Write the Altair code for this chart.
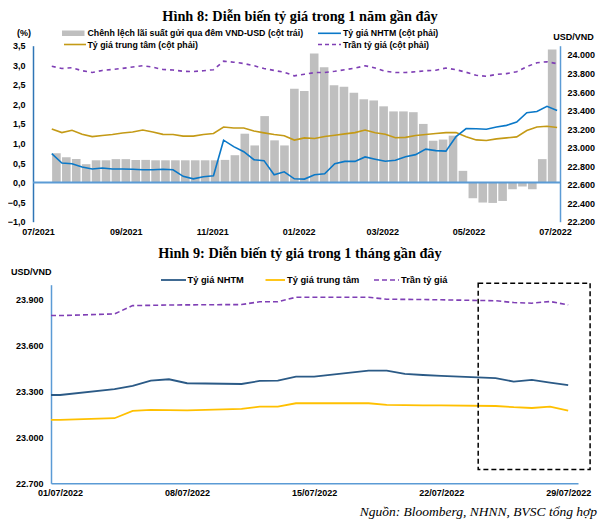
import altair as alt
import pandas as pd

# ---------------- Hình 8: weekly data, 1 year ----------------
week_dates = pd.date_range("2021-07-14", periods=51, freq="7D").strftime("%Y-%m-%d").tolist()

spread = [0.75, 0.65, 0.6, 0.47, 0.57, 0.57, 0.6, 0.6, 0.58, 0.58,
          0.57, 0.57, 0.57, 0.57, 0.57, 0.57, 0.57, 0.58, 0.7, 1.25,
          0.95, 1.7, 1.08, 0.95, 2.4, 2.34, 3.3, 2.95, 2.49, 2.45,
          2.3, 2.13, 2.1, 1.95, 1.82, 1.82, 1.8, 1.5, 1.07, 1.1,
          1.2, 0.3, -0.4, -0.51, -0.52, -0.47, -0.17, -0.1, -0.17, 0.6, 3.4]

nhtm_year = [22935, 22834, 22826, 22790, 22769, 22779, 22769, 22769, 22766, 22761,
             22761, 22766, 22761, 22690, 22663, 22685, 22696, 23080, 23010, 22956,
             22869, 22859, 22707, 22739, 22663, 22660, 22707, 22718, 22826, 22851,
             22851, 22899, 22875, 22853, 22864, 22902, 22924, 22983, 22967, 22962,
             23119, 23206, 23204, 23198, 23222, 23240, 23276, 23376, 23390, 23445, 23401]

central_year = [23200, 23162, 23187, 23143, 23119, 23130, 23141, 23157, 23168, 23190,
                23168, 23143, 23141, 23124, 23124, 23141, 23152, 23222, 23211, 23211,
                23179, 23159, 23141, 23127, 23081, 23105, 23099, 23119, 23133, 23148,
                23162, 23190, 23160, 23144, 23106, 23110, 23130, 23141, 23152, 23162,
                23162, 23117, 23083, 23076, 23094, 23105, 23116, 23184, 23222, 23230, 23217]

ceiling_year = [23878, 23854, 23862, 23830, 23811, 23833, 23843, 23855, 23870, 23884,
                23868, 23843, 23838, 23824, 23821, 23830, 23841, 23933, 23922, 23908,
                23884, 23854, 23833, 23813, 23775, 23792, 23810, 23810, 23824, 23841,
                23857, 23884, 23860, 23824, 23810, 23810, 23819, 23830, 23835, 23859,
                23841, 23813, 23781, 23770, 23790, 23799, 23819, 23873, 23916, 23927, 23906]

year_ticks = [(2021, 7), (2021, 9), (2021, 11), (2022, 1), (2022, 3), (2022, 5), (2022, 7)]
left_ticks = [-1.0, -0.5, 0.0, 0.5, 1.0, 1.5, 2.0, 2.5, 3.0, 3.5]
right_ticks = [22200, 22400, 22600, 22800, 23000, 23200, 23400, 23600, 23800, 24000]

# ---------------- Hình 9: daily data, 1 month ----------------
month_dates = ["2022-06-30", "2022-07-01", "2022-07-04", "2022-07-05", "2022-07-06",
               "2022-07-07", "2022-07-08", "2022-07-11", "2022-07-12", "2022-07-13",
               "2022-07-14", "2022-07-15", "2022-07-18", "2022-07-19", "2022-07-20",
               "2022-07-21", "2022-07-22", "2022-07-25", "2022-07-26", "2022-07-27",
               "2022-07-28", "2022-07-29"]
nhtm_month = [23278, 23278, 23316, 23337, 23372, 23381, 23355, 23350, 23370, 23372,
              23398, 23398, 23438, 23438, 23416, 23409, 23403, 23388, 23366, 23377,
              23359, 23342]
central_month = [23115, 23115, 23126, 23174, 23180, 23179, 23178, 23187, 23202, 23202,
                 23224, 23224, 23224, 23213, 23212, 23210, 23210, 23206, 23198, 23193,
                 23202, 23176]
ceiling_month = [23798, 23798, 23809, 23863, 23865, 23867, 23868, 23870, 23888, 23888,
                 23918, 23918, 23918, 23905, 23904, 23903, 23901, 23895, 23883, 23879,
                 23890, 23868]
month_ticks = [1, 8, 15, 22, 29]
month_y_ticks = [22700, 23000, 23300, 23600, 23900]

# highlighted window (dashed box) in data terms
box_x = ["2022-07-24T01:00:00Z", "2022-07-30T05:00:00Z"]
box_y = [22790, 24010]

df_year = pd.DataFrame({"date": week_dates, "spread": spread, "nhtm": nhtm_year,
                        "central": central_year, "ceiling": ceiling_year})
df_month = pd.DataFrame({"date": month_dates, "nhtm": nhtm_month,
                         "central": central_month, "ceiling": ceiling_month})
df_box = pd.DataFrame({"x0": [box_x[0]], "x1": [box_x[1]], "y0": [box_y[0]], "y1": [box_y[1]]})
one = pd.DataFrame({"k": [0]})

# ---------------- layout / style ----------------
W, H = 592, 512
SANS = "Liberation Sans"
SERIF = "Liberation Serif"


def dt(y, m, d, h=0):
    return alt.DateTime(year=y, month=m, date=d, hours=h, utc=True)


x_year = alt.Scale(type="utc", domain=[dt(2021, 7, 1), dt(2022, 7, 1)], range=[25, 552])
y_left = alt.Scale(domain=[-1, 3.5], range=[213.7, 37.7], nice=False, zero=False)
y_right = alt.Scale(domain=[22200, 24100], range=[213.7, 37.7], nice=False, zero=False)
x_month = alt.Scale(type="utc", domain=[dt(2022, 6, 30, 12), dt(2022, 7, 29, 13)],
                    range=[43, 570], clamp=True)
x_month_free = alt.Scale(type="utc", domain=[dt(2022, 6, 30, 12), dt(2022, 7, 29, 13)],
                         range=[43, 570])
y_month = alt.Scale(domain=[22700, 24000], range=[475.3, 276.7], nice=False, zero=False)

lab = dict(labelFont=SANS, labelFontWeight="bold", labelFontSize=9, labelColor="black",
           grid=False, ticks=False, title=None, labelFlush=False, labelOverlap=False)

ax_year_x = alt.Axis(orient="bottom", offset=213.7 - H, domain=False, labelPadding=5.5,
                     values=[dt(y, m, 1) for y, m in year_ticks], format="%m/%Y", **lab)
ax_left = alt.Axis(orient="left", offset=-25, values=left_ticks, labelPadding=8,
                   labelExpr="replace(format(datum.value, '.1f'), '.', ',')",
                   domainColor="#2E75B6", domainWidth=1.5, **lab)
ax_right = alt.Axis(orient="right", offset=552 - W, values=right_ticks, labelPadding=7,
                    labelExpr="replace(format(datum.value, ','), ',', '.')",
                    domainColor="#5B9BD5", domainWidth=1.5, **lab)
ax_month_x = alt.Axis(orient="bottom", offset=475.3 - H, labelPadding=5.5,
                      values=[dt(2022, 7, d) for d in month_ticks], format="%d/%m/%Y",
                      domainColor="#5B9BD5", domainWidth=1.5, **lab)
ax_month_y = alt.Axis(orient="left", offset=-43, values=month_y_ticks, labelPadding=8,
                      labelExpr="replace(format(datum.value, ','), ',', '.')",
                      domainColor="#5B9BD5", domainWidth=1.5, **lab)

# ---------------- Hình 8 layers ----------------
bars = alt.Chart(df_year).mark_bar(color="#BFBFBF", size=8.6).encode(
    x=alt.X("date:T", scale=x_year, axis=ax_year_x),
    y=alt.Y("spread:Q", scale=y_left, axis=ax_left),
    y2=alt.datum(0),
)
zero_rule = alt.Chart(one).mark_rule(color="#5B9BD5", strokeWidth=2).encode(
    x=alt.X(datum=dt(2021, 7, 1), type="temporal", scale=x_year, axis=None),
    x2=alt.datum(dt(2022, 7, 1)),
    y=alt.Y(datum=0, type="quantitative", scale=y_left, axis=None),
)
line_nhtm = alt.Chart(df_year).mark_line(color="#0A78C8", strokeWidth=1.6).encode(
    x=alt.X("date:T", scale=x_year, axis=None),
    y=alt.Y("nhtm:Q", scale=y_right, axis=ax_right),
)
line_central = alt.Chart(df_year).mark_line(color="#C49A16", strokeWidth=1.6).encode(
    x=alt.X("date:T", scale=x_year, axis=None),
    y=alt.Y("central:Q", scale=y_right, axis=None),
)
line_ceiling = alt.Chart(df_year).mark_line(color="#7F3FB5", strokeWidth=1.6,
                                            strokeDash=[4, 4]).encode(
    x=alt.X("date:T", scale=x_year, axis=None),
    y=alt.Y("ceiling:Q", scale=y_right, axis=None),
)

# ---------------- Hình 9 layers ----------------
m_nhtm = alt.Chart(df_month).mark_line(color="#2B5A86", strokeWidth=1.8).encode(
    x=alt.X("date:T", scale=x_month, axis=ax_month_x),
    y=alt.Y("nhtm:Q", scale=y_month, axis=ax_month_y),
)
m_central = alt.Chart(df_month).mark_line(color="#FFC000", strokeWidth=1.8).encode(
    x=alt.X("date:T", scale=x_month, axis=None),
    y=alt.Y("central:Q", scale=y_month, axis=None),
)
m_ceiling = alt.Chart(df_month).mark_line(color="#7F3FB5", strokeWidth=1.6,
                                          strokeDash=[5, 3]).encode(
    x=alt.X("date:T", scale=x_month, axis=None),
    y=alt.Y("ceiling:Q", scale=y_month, axis=None),
)
box = alt.Chart(df_box).mark_rect(fillOpacity=0, stroke="black", strokeWidth=1.5,
                                  strokeDash=[5, 3]).encode(
    x=alt.X("x0:T", scale=x_month_free, axis=None),
    x2="x1:T",
    y=alt.Y("y0:Q", scale=y_month, axis=None),
    y2="y1:Q",
)


# ---------------- texts & legends ----------------
def text(s, x, y, size=8.8, align="left", font=SANS, weight="bold", style="normal"):
    return alt.Chart(one).mark_text(align=align, baseline="middle", font=font,
                                    fontSize=size, fontWeight=weight, fontStyle=style,
                                    color="black").encode(
        x=alt.value(x), y=alt.value(y), text=alt.value(s))


def sym_line(x0, x1, y, color, dash=None, width=1.6):
    kw = dict(color=color, strokeWidth=width)
    if dash:
        kw["strokeDash"] = dash
    return alt.Chart(one).mark_rule(**kw).encode(
        x=alt.value(x0), x2=alt.value(x1), y=alt.value(y))


legend_box = alt.Chart(one).mark_rect(color="#BFBFBF").encode(
    x=alt.value(54), x2=alt.value(76.5), y=alt.value(22.5), y2=alt.value(28))

texts = [
    text("Hình 8: Diễn biến tỷ giá trong 1 năm gần đây", 292, 9, size=14.3,
         align="center", font=SERIF),
    text("(%)", 16, 25.4, size=9, align="center"),
    text("USD/VND", 565.5, 28.5, size=9, align="center"),
    legend_box,
    text("Chênh lệch lãi suất gửi qua đêm VND-USD (cột trái)", 79.5, 25.3),
    sym_line(310, 333, 25.3, "#0A78C8"),
    text("Tỷ giá NHTM (cột phải)", 335, 25.3),
    sym_line(56, 78, 36.5, "#C49A16"),
    text("Tỷ giá trung tâm (cột phải)", 79.5, 36.5),
    sym_line(310, 333, 36.5, "#7F3FB5", dash=[4, 3]),
    text("Trần tỷ giá (cột phải)", 335, 36.5),
    text("Hình 9: Diễn biến tỷ giá trong 1 tháng gần đây", 292, 246, size=14.3,
         align="center", font=SERIF),
    text("USD/VND", 3, 264, size=9),
    sym_line(153, 178, 272, "#2B5A86", width=1.8),
    text("Tỷ giá NHTM", 179.5, 272, size=9.3),
    sym_line(257.5, 277, 272, "#FFC000", width=1.8),
    text("Tỷ giá trung tâm", 279, 272, size=9.3),
    sym_line(366, 391, 272, "#7F3FB5", dash=[5, 3]),
    text("Trần tỷ giá", 393, 272, size=9.3),
    text("Nguồn: Bloomberg, NHNN, BVSC tổng hợp", 589, 503.5, size=13.5, align="right",
         font=SERIF, weight="normal", style="italic"),
]

chart = alt.layer(
    bars, zero_rule, line_central, line_ceiling, line_nhtm,
    m_central, m_ceiling, m_nhtm, box, *texts
).resolve_scale(
    x="independent", y="independent"
).properties(
    width=W, height=H, padding=0, autosize=alt.AutoSizeParams(type="none")
).configure_view(strokeWidth=0)

chart.save("out.html", embed_options={"renderer": "svg", "actions": False})
